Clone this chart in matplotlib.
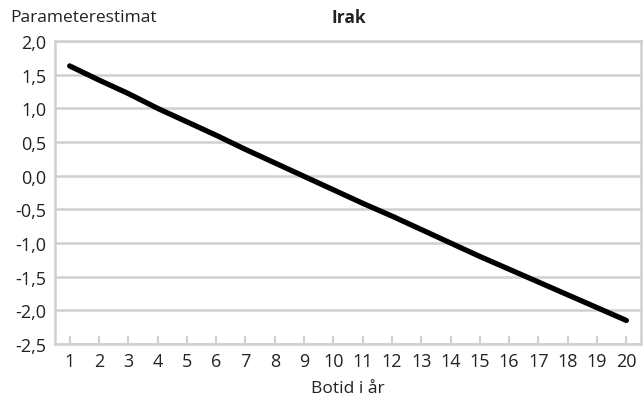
import matplotlib
matplotlib.use("Agg")
import matplotlib.pyplot as plt

years = list(range(1, 21))
estimates = [1.63, 1.42, 1.22, 1.00, 0.80, 0.60, 0.39, 0.19, -0.01, -0.21,
             -0.41, -0.60, -0.80, -1.00, -1.20, -1.39, -1.58, -1.77, -1.96, -2.15]
yticks = [2.0, 1.5, 1.0, 0.5, 0.0, -0.5, -1.0, -1.5, -2.0, -2.5]
ytick_labels = ["2,0", "1,5", "1,0", "0,5", "0,0", "-0,5", "-1,0", "-1,5", "-2,0", "-2,5"]

plt.rcParams['font.family'] = ['Open Sans', 'DejaVu Sans']
grid_col = "#d0d0d0"
fs = 13

fig = plt.figure(figsize=(6.43, 4.06), dpi=100)
ax = fig.add_axes([55/643, 1 - 345/406, (641-55)/643, (345-42)/406])

ax.plot(years, estimates, color="black", linewidth=3.8, solid_capstyle="round", zorder=3)

ax.set_xlim(0.5, 20.5)
ax.set_ylim(-2.5, 2.0)
ax.set_yticks(yticks)
ax.set_yticklabels(ytick_labels)
ax.set_xticks(years)
ax.set_xticklabels([str(y) for y in years])

for y in yticks:
    ax.axhline(y, color=grid_col, linewidth=1.8, zorder=1)

for s in ["left", "bottom", "right", "top"]:
    ax.spines[s].set_color(grid_col)
    ax.spines[s].set_linewidth(1.8)

ax.tick_params(axis="y", length=0, labelsize=fs, colors="#222222", pad=6)
ax.tick_params(axis="x", direction="in", length=6, width=1.5, color=grid_col,
               labelsize=fs, labelcolor="#222222", pad=6)

ax.set_xlabel("Botid i år", fontsize=fs - 0.5, color="#222222", labelpad=7)
fig.text(10/643, 1 - 18/406, "Parameterestimat", fontsize=fs - 0.5, color="#222222",
         ha="left", va="center")
fig.text(349/643, 1 - 18/406, "Irak", fontsize=fs - 0.5, fontweight="bold",
         color="#222222", ha="center", va="center")

fig.savefig("out.png", dpi=100)
